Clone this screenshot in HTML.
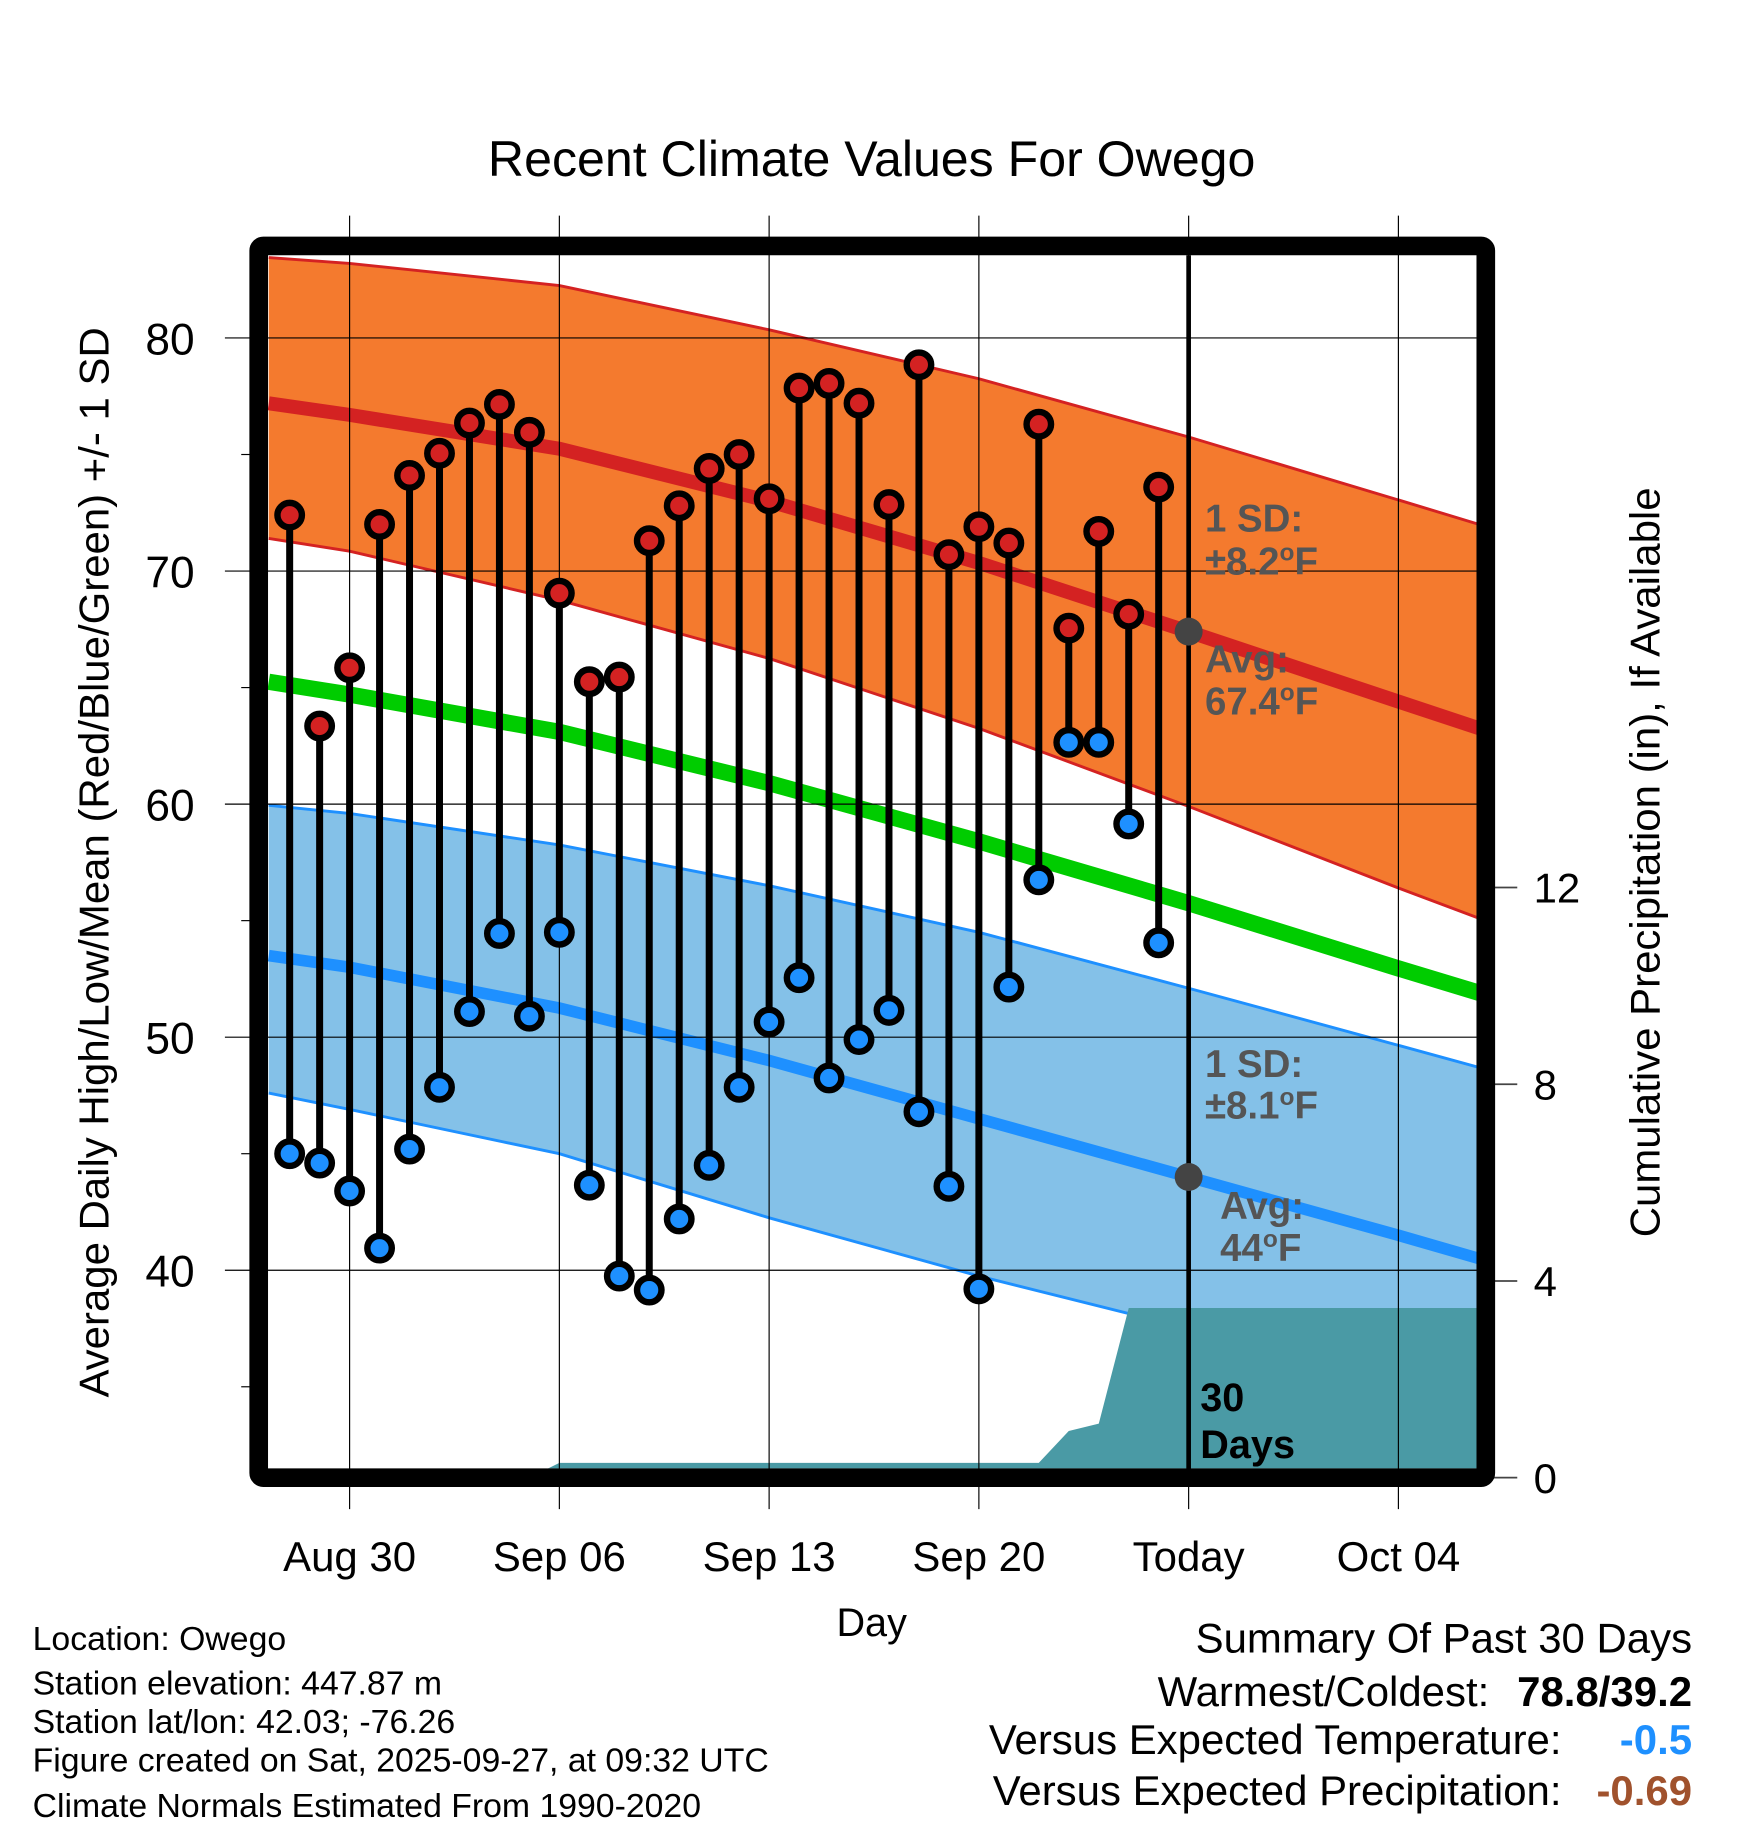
<!DOCTYPE html>
<html><head><meta charset="utf-8"><style>
html,body{margin:0;padding:0;background:#fff}
svg{display:block}
text{font-family:"Liberation Sans",sans-serif}
</style></head><body>
<svg id="chart" width="1748" height="1828" viewBox="0 0 1500 1568.6" xmlns="http://www.w3.org/2000/svg">
<defs><clipPath id="plotclip"><rect x="230" y="219" width="1037" height="1041"/></clipPath></defs>
<g id="plot" clip-path="url(#plotclip)"></g>
<g id="over"></g>
<text x="748" y="151" text-anchor="middle" font-size="43">Recent Climate Values For Owego</text>
<text transform="translate(93,740) rotate(-90)" text-anchor="middle" font-size="36">Average Daily High/Low/Mean (Red/Blue/Green) +/- 1 SD</text>
<text transform="translate(1424,740) rotate(-90)" text-anchor="middle" font-size="36">Cumulative Precipitation (in), If Available</text>
<text x="748" y="1404" text-anchor="middle" font-size="34">Day</text>
<g font-size="29">
<text x="28" y="1416">Location: Owego</text>
<text x="28" y="1454">Station elevation: 447.87 m</text>
<text x="28" y="1487">Station lat/lon: 42.03; -76.26</text>
<text x="28" y="1520">Figure created on Sat, 2025-09-27, at 09:32 UTC</text>
<text x="28" y="1559">Climate Normals Estimated From 1990-2020</text>
</g>
<g font-size="36">
<text x="1452" y="1418" text-anchor="end">Summary Of Past 30 Days</text>
<text x="1278" y="1464" text-anchor="end">Warmest/Coldest:</text>
<text x="1452" y="1464" text-anchor="end" font-weight="bold">78.8/39.2</text>
<text x="1340" y="1505" text-anchor="end">Versus Expected Temperature:</text>
<text x="1452" y="1505" text-anchor="end" font-weight="bold" fill="#1e90ff">-0.5</text>
<text x="1340" y="1549" text-anchor="end">Versus Expected Precipitation:</text>
<text x="1452" y="1549" text-anchor="end" font-weight="bold" fill="#a0522d">-0.69</text>
</g>
</svg>
<script>
// Observed data: days since Aug 30 (Aug 28 .. Sep 26)
const obsDays = [-2,-1,0,1,2,3,4,5,6,7,8,9,10,11,12,13,14,15,16,17,18,19,20,21,22,23,24,25,26,27];
const highs = [72.4,63.35,65.85,72.0,74.1,75.05,76.35,77.15,75.95,69.05,65.25,65.45,71.3,72.8,74.4,75.0,73.1,77.85,78.05,77.2,72.85,78.85,70.7,71.9,71.2,76.3,67.55,71.7,68.15,73.6];
const lows = [45.0,44.6,43.4,40.95,45.2,47.85,51.1,54.45,50.9,54.5,43.65,39.75,39.15,42.2,44.5,47.85,50.65,52.55,48.25,49.9,51.15,46.8,43.6,39.2,52.15,56.75,62.65,62.65,59.15,54.05];
const precip = [0,0,0,0,0,0,0,0,0,0.3,0.3,0.3,0.3,0.3,0.3,0.3,0.3,0.3,0.3,0.3,0.3,0.3,0.3,0.3,0.3,0.3,0.95,1.1,3.45,3.45];
// Normals sampled at days
const normDays = [-2.7,0,7,14,21,28,35,37.7];
const avgHigh = [77.2,76.7,75.25,73,70.35,67.4,64.4,63.25];
const highTop = [83.45,83.2,82.25,80.35,78.25,75.75,73.05,72];
const highBot = [71.4,70.85,68.75,66.25,63.25,59.9,56.4,55.1];
const meanT = [65.25,64.7,63.1,60.9,58.4,55.75,52.95,51.9];
const avgLow = [53.5,53,51.25,49,46.5,44,41.5,40.5];
const lowTop = [59.95,59.6,58.25,56.5,54.5,52.1,49.65,48.7];
const lowBot = [47.6,46.9,45,42.25,39.75,37.5,36.2,35.75];
const xTickDays = [0,7,14,21,28,35];
const xTickLabels = ["Aug 30","Sep 06","Sep 13","Sep 20","Today","Oct 04"];
const yTicks = [40,50,60,70,80];
const yMinor = [35,45,55,65,75];
const pTicks = [0,4,8,12];

const X = d => 300 + d*(180/7);
const Y = t => 290 + (80-t)*20;
const P = p => 1268 - p*42.2;
const NS = "http://www.w3.org/2000/svg";
const plot = document.getElementById('plot');
const over = document.getElementById('over');
function mk(parent, tag, attrs){const e=document.createElementNS(NS,tag);for(const k in attrs)e.setAttribute(k,attrs[k]);parent.appendChild(e);return e;}
const pts = (ds, vs) => ds.map((d,i)=>X(d).toFixed(1)+','+Y(vs[i]).toFixed(1));
function band(top, bot){return pts(normDays,top).concat(pts(normDays,bot).reverse()).join(' ');}

let e;
e = mk(plot,'polygon',{points:band(highTop,highBot),fill:'#f47a2e'});


e = mk(plot,'polyline',{points:pts(normDays,highTop).join(' '),fill:'none',stroke:'#d42222','stroke-width':2.5});


e = mk(plot,'polyline',{points:pts(normDays,highBot).join(' '),fill:'none',stroke:'#d42222','stroke-width':2.5});


e = mk(plot,'polyline',{points:pts(normDays,avgHigh).join(' '),fill:'none',stroke:'#d42222','stroke-width':12});


e = mk(plot,'polygon',{points:band(lowTop,lowBot),fill:'#84c1e8'});


e = mk(plot,'polyline',{points:pts(normDays,lowTop).join(' '),fill:'none',stroke:'#1e90ff','stroke-width':2.5});


e = mk(plot,'polyline',{points:pts(normDays,lowBot).join(' '),fill:'none',stroke:'#1e90ff','stroke-width':2.5});


e = mk(plot,'polyline',{points:pts(normDays,meanT).join(' '),fill:'none',stroke:'#00cc00','stroke-width':14});


e = mk(plot,'polyline',{points:pts(normDays,avgLow).join(' '),fill:'none',stroke:'#1e90ff','stroke-width':10});



// precip area
let pp = [X(-3)+','+P(precip[0])];
obsDays.forEach((d,i)=>pp.push(X(d).toFixed(1)+','+P(precip[i]).toFixed(1)));
pp.push(X(38)+','+P(precip[precip.length-1]));
pp.push(X(38)+',1290'); pp.push(X(-3)+',1290');
e = mk(plot,'polygon',{points:pp.join(' '),fill:'#4a9aa5'});



// grid
xTickDays.forEach(d=>{
  e = mk(over,'line',{x1:X(d),x2:X(d),y1:185,y2:1295,stroke:'#000','stroke-width':1});
  
  
});
yTicks.forEach(t=>{
  e = mk(over,'line',{x1:193,x2:1267,y1:Y(t),y2:Y(t),stroke:'#000','stroke-width':1});
  
  
  e = mk(over,'text',{x:167,y:Y(t)+14,'text-anchor':'end','font-size':38});
  e.textContent = t;
  
  
});
yMinor.forEach(t=>{
  e = mk(over,'line',{x1:207,x2:216,y1:Y(t),y2:Y(t),stroke:'#000','stroke-width':1});
  
  
});
pTicks.forEach(p=>{
  e = mk(over,'line',{x1:1276,x2:1302,y1:P(p),y2:P(p),stroke:'#444','stroke-width':1.5});
  
  
  e = mk(over,'text',{x:1316,y:P(p)+13,'font-size':36});
  e.textContent = p;
  
  
});
xTickDays.forEach((d,i)=>{
  e = mk(over,'text',{x:X(d),y:1348,'text-anchor':'middle','font-size':36});
  e.textContent = xTickLabels[i];
  
  
});
// today line
e = mk(over,'line',{x1:X(28),x2:X(28),y1:219,y2:1262,stroke:'#000','stroke-width':4});



// stems and dots
obsDays.forEach((d,i)=>{
  e = mk(over,'line',{x1:X(d),x2:X(d),y1:Y(highs[i]),y2:Y(lows[i]),stroke:'#000','stroke-width':6});
  
  
});
obsDays.forEach((d,i)=>{
  e = mk(over,'circle',{cx:X(d),cy:Y(highs[i]),r:10.5,fill:'#d42222',stroke:'#000','stroke-width':5.5});
  
  
  e = mk(over,'circle',{cx:X(d),cy:Y(lows[i]),r:10.5,fill:'#1e90ff',stroke:'#000','stroke-width':5.5});
  
  
});
// today normal markers
e = mk(over,'circle',{cx:X(28),cy:Y(avgHigh[5]),r:12,fill:'#444'});


e = mk(over,'circle',{cx:X(28),cy:Y(avgLow[5]),r:12,fill:'#444'});



// annotations
function ann(x,y,html,name,fill,fs){const t=mk(over,'text',{x:x,y:y,'font-size':fs||33,'font-weight':'bold',fill:fill||'#555'});t.innerHTML=html;return t;}
ann(1034,456,'1 SD:','high-sd-label');
ann(1034,493,'±8.2<tspan dy="-12" font-size="21">o</tspan><tspan dy="12">F</tspan>','high-sd-value');
ann(1034,577,'Avg:','high-avg-label');
ann(1034,613,'67.4<tspan dy="-12" font-size="21">o</tspan><tspan dy="12">F</tspan>','high-avg-value');
ann(1034,924,'1 SD:','low-sd-label');
ann(1034,960,'±8.1<tspan dy="-12" font-size="21">o</tspan><tspan dy="12">F</tspan>','low-sd-value');
ann(1047,1046,'Avg:','low-avg-label');
ann(1047,1082,'44<tspan dy="-12" font-size="21">o</tspan><tspan dy="12">F</tspan>','low-avg-value');
ann(1030,1211,'30','days-count','#000',34);
ann(1030,1251,'Days','days-label','#000',34);

// frame
e = mk(over,'rect',{x:222,y:211,width:1053,height:1057,fill:'none',stroke:'#000','stroke-width':16,rx:4});


</script>
</body></html>
